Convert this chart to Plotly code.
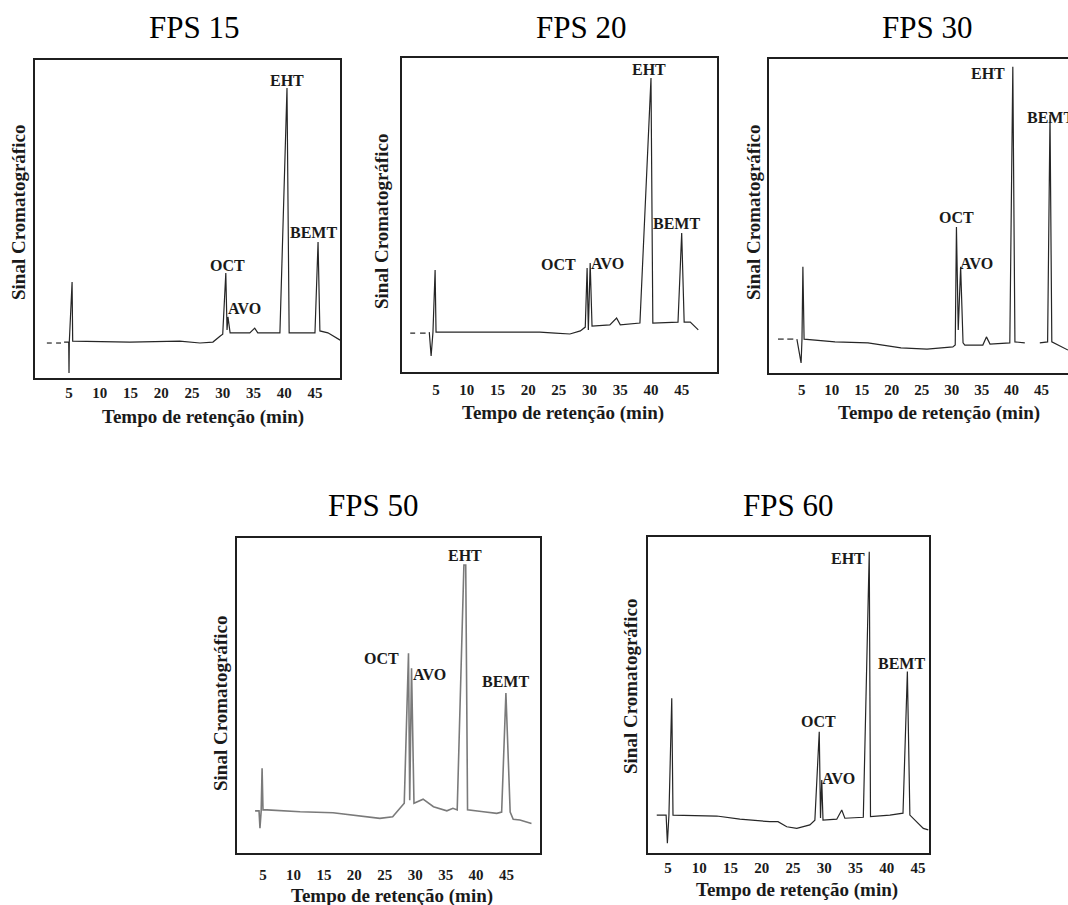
import plotly.graph_objects as go

W, H = 1068, 905

# ---------------- data ----------------
tick_minutes = [5, 10, 15, 20, 25, 30, 35, 40, 45]
panel_titles = ["FPS 15", "FPS 20", "FPS 30", "FPS 50", "FPS 60"]
peak_names = ["OCT", "AVO", "EHT", "BEMT"]
x_title = "Tempo de retenção (min)"
y_title = "Sinal Cromatográfico"

# retention time (min) / signal (relative units, 0-100 of frame height)
fps15_t = [1.4, 2.2, None, 2.9, 3.7, None, 4.2, 4.95, 5.0, 5.05, 5.5, 5.6, 14.9, 23.0, 26.3, 28.4, 29.6, 30.0,
           30.5, 30.7, 30.85, 31.2, 34.4, 35.2, 35.7, 39.3, 40.45, 40.8, 45.0, 45.5, 45.8, 47.1, 49.1]
fps15_s = [11.0, 11.0, None, 11.0, 11.0, None, 11.3, 11.3, 1.6, 11.3, 30.2, 11.6, 11.3, 11.6, 11.0, 11.3, 13.2, 13.8,
           33.0, 15.1, 19.2, 14.2, 14.2, 15.7, 14.2, 14.2, 91.2, 14.2, 14.2, 42.8, 14.8, 14.2, 11.9]

fps20_t = [0.8, 1.6, None, 2.4, 3.3, None, 3.9, 4.2, 4.5, 4.85, 5.0, 12.2, 21.9, 24.4, 26.8, 28.5, 29.3, 29.6,
           29.8, 30.1, 30.4, 33.3, 34.4, 35.0, 38.2, 40.0, 40.3, 44.4, 45.0, 45.4, 46.4, 47.7]
fps20_s = [12.4, 12.4, None, 12.4, 12.4, None, 12.7, 5.1, 12.7, 32.5, 12.7, 12.7, 12.7, 12.4, 12.1, 13.1, 14.3, 33.1,
           13.4, 34.7, 14.6, 15.0, 17.2, 15.0, 15.6, 93.6, 15.6, 15.9, 44.3, 15.9, 15.9, 13.4]

fps30_t = [1.05, 2.0, None, 2.6, 3.6, None, 4.2, 4.9, 5.05, 5.2, 5.4, 10.55, 16.05, 21.55, 25.9, 30.2, 30.6, 30.8,
           31.1, 31.5, 31.9, 32.2, 35.2, 35.8, 36.4, 39.7, 40.2, 40.55, 42.2, None, 44.7, 46.0, 46.4, 46.7, 49.4]
fps30_s = [10.8, 10.8, None, 10.8, 10.8, None, 10.8, 3.2, 10.8, 33.8, 10.8, 9.9, 9.6, 8.0, 7.6, 8.3, 8.9, 46.5,
           13.7, 33.8, 9.6, 8.9, 8.9, 11.5, 9.2, 9.6, 97.5, 9.9, 9.6, None, 9.6, 9.9, 82.2, 9.9, 7.3]

fps50_t = [3.7, 4.35, 4.5, 4.7, 4.85, 5.0, 5.65, 11.1, 16.5, 22.1, 24.2, 26.3, 27.5, 28.2, 28.9, 29.1, 29.4, 29.8,
           31.3, 33.0, 35.2, 36.2, 36.9, 38.0, 38.3, 38.6, 41.2, 43.4, 44.2, 44.9, 45.6, 46.1, 47.2, 49.1]
fps50_s = [13.3, 13.3, 7.75, 13.3, 26.8, 13.6, 13.6, 13.0, 12.7, 11.4, 10.9, 11.4, 14.1, 15.7, 63.4, 16.7, 58.6, 15.7,
           17.0, 14.6, 13.3, 14.1, 13.6, 91.4, 91.4, 13.6, 13.0, 12.5, 12.9, 50.7, 12.9, 10.6, 10.4, 9.3]

fps60_t = [3.2, 4.7, 4.9, 5.15, 5.6, 5.8, 12.8, 16.5, 21.3, 22.6, 24.0, 25.6, 27.7, 28.5, 29.2, 29.4, 29.6, 29.8,
           32.0, 32.8, 33.3, 36.25, 37.2, 37.4, 40.5, 42.6, 43.3, 43.7, 45.85, 46.65]
fps60_s = [12.0, 12.0, 3.1, 12.0, 49.0, 12.0, 11.7, 10.7, 9.9, 9.9, 8.3, 7.8, 8.9, 10.4, 38.4, 11.1, 23.1, 10.4,
           10.7, 13.6, 11.0, 11.3, 95.3, 11.5, 12.0, 12.6, 57.4, 12.0, 7.8, 7.3]

# peak label positions (OCT, AVO, EHT, BEMT)
fps15_lbl_t = [30.7, 33.6, 40.45, 44.7]
fps15_lbl_s = [35.5, 22.0, 93.7, 45.6]
fps20_lbl_t = [25.0, 33.0, 39.7, 44.1]
fps20_lbl_s = [34.1, 34.7, 96.2, 47.4]
fps30_lbl_t = [30.8, 34.2, 36.05, 46.4]
fps30_lbl_s = [49.4, 35.0, 95.5, 81.5]
fps50_lbl_t = [24.4, 32.4, 38.2, 44.9]
fps50_lbl_s = [61.8, 56.5, 94.5, 54.3]
fps60_lbl_t = [29.0, 32.25, 33.85, 42.4]
fps60_lbl_s = [41.6, 23.6, 93.3, 60.0]

series_t = [fps15_t, fps20_t, fps30_t, fps50_t, fps60_t]
series_s = [fps15_s, fps20_s, fps30_s, fps50_s, fps60_s]
labels_t = [fps15_lbl_t, fps20_lbl_t, fps30_lbl_t, fps50_lbl_t, fps60_lbl_t]
labels_s = [fps15_lbl_s, fps20_lbl_s, fps30_lbl_s, fps50_lbl_s, fps60_lbl_s]

# ---------------- layout (pixel geometry) ----------------
panels = [
    dict(f=(35, 340, 60, 378), xr=(-0.53, 49.07), tl=0, tc=(194, 28), xt=(203, 417), yt=(18, 213)),
    dict(f=(401.7, 716.7, 58, 372), xr=(-0.59, 50.7), tl=3, tc=(581, 28), xt=(563, 413), yt=(382, 222)),
    dict(f=(769, 1068, 59, 373), xr=(-0.45, 49.4), tl=2, tc=(927, 28), xt=(939, 413), yt=(753, 213)),
    dict(f=(236.7, 540, 538, 852.7), xr=(0.68, 50.5), tl=7, tc=(373, 505), xt=(392, 896), yt=(220, 704)),
    dict(f=(648, 929, 537, 853), xr=(1.8, 46.76), tl=0, tc=(788, 505), xt=(797, 890), yt=(630, 687)),
]
line_colors = ["#262626", "#262626", "#262626", "#7a7a7a", "#262626"]
line_widths = [1.2, 1.2, 1.2, 1.6, 1.2]

SERIF = "Liberation Serif"


def pxx(x):
    return x / W


def pxy(y):
    return 1 - y / H


fig = go.Figure()
annotations = []
layout = dict(
    width=W, height=H, margin=dict(l=0, r=0, t=0, b=0),
    paper_bgcolor="white", plot_bgcolor="white", showlegend=False,
)
tick_text = ["<b>%d</b>" % v for v in tick_minutes]

for i, p in enumerate(panels):
    k = "" if i == 0 else str(i + 1)
    L, R, T, B = p["f"]
    fig.add_trace(go.Scatter(
        x=series_t[i], y=series_s[i], mode="lines",
        line=dict(color=line_colors[i], width=line_widths[i]),
        connectgaps=False, xaxis="x" + k, yaxis="y" + k, hoverinfo="skip",
    ))
    layout["xaxis" + k] = dict(
        domain=[pxx(L), min(1.0, pxx(R))], range=list(p["xr"]), anchor="y" + k,
        tickvals=tick_minutes, ticktext=tick_text,
        ticks="outside" if p["tl"] > 0 else "", ticklen=max(p["tl"], 1), tickcolor="rgba(0,0,0,0)",
        tickfont=dict(family=SERIF, size=15, color="#1a1a1a"),
        showgrid=False, zeroline=False, showline=True, linecolor="#1f1f1f", linewidth=1.6,
        mirror=True, fixedrange=True,
    )
    layout["yaxis" + k] = dict(
        domain=[pxy(B), pxy(T)], range=[0, 100], anchor="x" + k,
        showticklabels=False, ticks="", showgrid=False, zeroline=False,
        showline=True, linecolor="#1f1f1f", linewidth=1.6, mirror=(i != 2), fixedrange=True,
    )
    annotations.append(dict(
        text=panel_titles[i], x=pxx(p["tc"][0]), y=pxy(p["tc"][1]), xref="paper", yref="paper",
        xanchor="center", yanchor="middle", showarrow=False,
        font=dict(family=SERIF, size=31, color="black"),
    ))
    annotations.append(dict(
        text="<b>%s</b>" % x_title, x=pxx(p["xt"][0]), y=pxy(p["xt"][1]), xref="paper", yref="paper",
        xanchor="center", yanchor="middle", showarrow=False,
        font=dict(family=SERIF, size=19, color="#1a1a1a"),
    ))
    annotations.append(dict(
        text="<b>%s</b>" % y_title, x=pxx(p["yt"][0]), y=pxy(p["yt"][1]), xref="paper", yref="paper",
        xanchor="center", yanchor="middle", showarrow=False, textangle=-90,
        font=dict(family=SERIF, size=19, color="#1a1a1a"),
    ))
    for name, lt, ls in zip(peak_names, labels_t[i], labels_s[i]):
        annotations.append(dict(
            text="<b>%s</b>" % name, x=lt, y=ls, xref="x" + k, yref="y" + k,
            xanchor="center", yanchor="middle", showarrow=False,
            font=dict(family=SERIF, size=16, color="#1a1a1a"),
        ))

layout["annotations"] = annotations
fig.update_layout(**layout)
fig.write_html("out.html", config={"displayModeBar": False})
